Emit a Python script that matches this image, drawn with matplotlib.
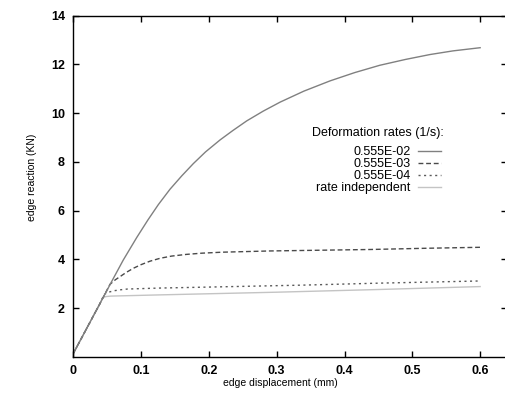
import matplotlib
matplotlib.use("Agg")
import matplotlib.pyplot as plt

plt.rcParams['font.family'] = ['Liberation Sans', 'DejaVu Sans']

# deformation rate 0.555E-02
x_e02 = [0, 0.0394, 0.0566, 0.0737, 0.0935, 0.11, 0.1254, 0.1426, 0.16, 0.177,
         0.195, 0.2164, 0.235, 0.2557, 0.28, 0.305, 0.34, 0.3786, 0.415, 0.452,
         0.49, 0.526, 0.56, 0.6]
y_e02 = [0.15, 2.2, 3.1, 3.98, 4.9, 5.62, 6.25, 6.88, 7.43, 7.93,
         8.41, 8.9, 9.28, 9.68, 10.08, 10.45, 10.9, 11.32, 11.66, 11.96,
         12.2, 12.4, 12.55, 12.68]

# deformation rate 0.555E-03
x_e03 = [0, 0.0394, 0.054, 0.062, 0.069, 0.078, 0.0885, 0.1, 0.113, 0.128,
         0.145, 0.167, 0.19, 0.22, 0.29, 0.4376, 0.52, 0.6]
y_e03 = [0.15, 2.2, 2.98, 3.17, 3.3, 3.47, 3.64, 3.79, 3.93, 4.05,
         4.14, 4.21, 4.26, 4.3, 4.35, 4.41, 4.46, 4.5]

# deformation rate 0.555E-04
x_e04 = [0, 0.0394, 0.046, 0.052, 0.06, 0.07, 0.08, 0.128, 0.2, 0.339, 0.45, 0.6]
y_e04 = [0.15, 2.2, 2.58, 2.66, 2.72, 2.76, 2.79, 2.83, 2.87, 2.95, 3.03, 3.12]

# rate independent
x_ri = [0, 0.0394, 0.043, 0.048, 0.055, 0.128, 0.3, 0.45, 0.6]
y_ri = [0.15, 2.2, 2.43, 2.48, 2.5, 2.55, 2.66, 2.77, 2.89]

labels = ['0.555E-02', '0.555E-03', '0.555E-04', 'rate independent']
xticks = [0, 0.1, 0.2, 0.3, 0.4, 0.5, 0.6]
xticklabels = ['0', '0.1', '0.2', '0.3', '0.4', '0.5', '0.6']
yticks = [2, 4, 6, 8, 10, 12, 14]

fig = plt.figure(figsize=(5.06, 4.09), dpi=100)
ax = fig.add_axes([0.1449, 0.1269, 0.8576, 0.8352])

ax.plot(x_ri, y_ri, color='#c4c4c4', lw=1.0, label=labels[3])
ax.plot(x_e04, y_e04, color='#5a5a5a', lw=1.0, ls=(0, (1.5, 2.5)), label=labels[2])
ax.plot(x_e03, y_e03, color='#4a4a4a', lw=1.0, ls=(0, (3.5, 2)), label=labels[1])
ax.plot(x_e02, y_e02, color='#808080', lw=1.0, label=labels[0])

ax.set_xlim(0, 0.64)
ax.set_ylim(0, 14)
ax.set_xticks(xticks)
ax.set_xticklabels(xticklabels)
ax.set_yticks(yticks)
ax.tick_params(direction='in', length=4, width=1, top=True, right=True,
               labelsize=9, pad=6)
for lab in ax.get_xticklabels() + ax.get_yticklabels():
    lab.set_fontweight('bold')
for sp in ax.spines.values():
    sp.set_linewidth(1.0)

ax.set_xlabel('edge displacement (mm)', fontsize=7.5)
ax.set_ylabel('edge reaction (KN)', fontsize=7.5)
ax.xaxis.set_label_coords(0.476, -0.06)
ax.yaxis.set_label_coords(-0.084, 0.527)

ax.text(0.549, 0.656, 'Deformation rates (1/s):', transform=ax.transAxes,
        fontsize=9, ha='left', va='center')
handles, labs = ax.get_legend_handles_labels()
order = [3, 2, 1, 0]
ax.legend([handles[i] for i in order], [labs[i] for i in order],
          loc='upper right', bbox_to_anchor=(0.8465, 0.618), frameon=False,
          markerfirst=False, fontsize=9, handlelength=1.84, handletextpad=0.56,
          labelspacing=0.0, borderpad=0, borderaxespad=0)

fig.savefig('out.png', dpi=100)
